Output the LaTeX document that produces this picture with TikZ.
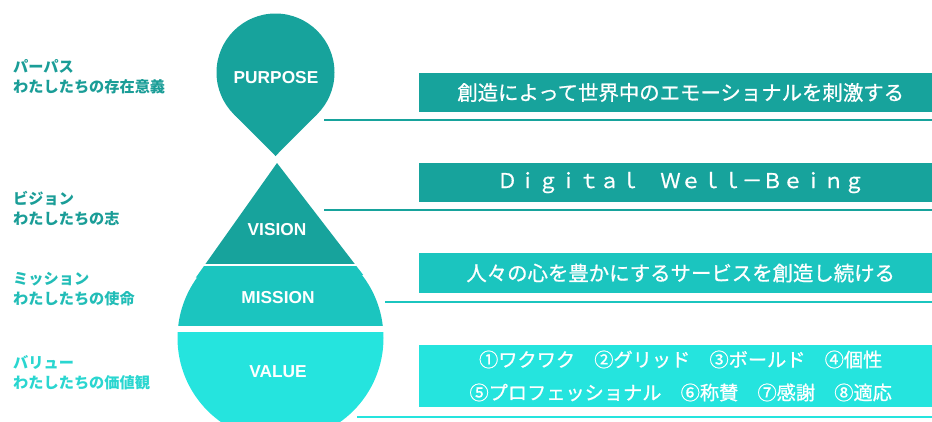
\documentclass[tikz,border=0pt]{standalone}
\usepackage{fontspec}
\setmainfont{Liberation Sans}
\newfontfamily\jpfont{Noto Sans CJK JP}
\newfontfamily\jpmed{Noto Sans CJK JP}[FakeBold=0.8]
\definecolor{tealA}{HTML}{17A39C}
\definecolor{tealB}{HTML}{1BC5BF}
\definecolor{tealC}{HTML}{25E4DE}
\definecolor{labA}{HTML}{1A9D97}
\definecolor{labB}{HTML}{22BDB7}
\definecolor{labC}{HTML}{2AD6D0}
\begin{document}
\begin{tikzpicture}[x=1pt,y=-1pt,
  shapelabel/.style={text=white, inner sep=0pt, font=\fontsize{17.3}{17.3}\selectfont\bfseries},
  sidelabel/.style={anchor=west, align=left, inner sep=0pt, font=\jpfont\bfseries\fontsize{15.2}{20}\selectfont},
  banner/.style={anchor=west, inner sep=0pt, text=white, minimum width=523pt, align=center},
  bannertext/.style={font=\jpmed\fontsize{20.4}{20.4}\selectfont},
  sepline/.style={line width=2pt}
]
\useasboundingbox (0,0) rectangle (932,421);
% ---------- PURPOSE drop ----------
\coordinate (pc) at (275.5,72.5);
\coordinate (ptip) at (275.5,156);
\coordinate (pt1) at (233.8,114.2);
\coordinate (pt2) at (317.2,114.2);
\fill[tealA] (pc) circle[radius=59pt];
\fill[tealA] (pt1) -- (ptip) -- (pt2) -- cycle;
\node[shapelabel] (purpose) at (276,78) {PURPOSE};
% ---------- lower teardrop ----------
\coordinate (apex) at (277,163);
\coordinate (cc) at (280.5,338);
\coordinate (tR) at (363.1,274.8);
\coordinate (tL) at (195.8,277.6);
\begin{scope}
  \clip (0,150) rectangle (932,263.5);
  \fill[tealA] (apex) -- (tR) -- (tL) -- cycle;
  \fill[tealA] (cc) circle[radius=103pt];
\end{scope}
\begin{scope}
  \clip (0,266.5) rectangle (932,325.5);
  \fill[tealB] (apex) -- (tR) -- (tL) -- cycle;
  \fill[tealB] (cc) circle[radius=103pt];
\end{scope}
\begin{scope}
  \clip (0,332.5) rectangle (932,430);
  \fill[tealC] (apex) -- (tR) -- (tL) -- cycle;
  \fill[tealC] (cc) circle[radius=103pt];
\end{scope}
\node[shapelabel] (vision) at (277,230) {VISION};
\node[shapelabel] (mission) at (278,298) {MISSION};
\node[shapelabel] (value) at (278,372) {VALUE};
% ---------- side labels ----------
\node[sidelabel, text=labA] (lp) at (13,77) {パーパス\\わたしたちの存在意義};
\node[sidelabel, text=labA] (lv) at (13,209) {ビジョン\\わたしたちの志};
\node[sidelabel, text=labB] (lm) at (13,289) {ミッション\\わたしたちの使命};
\node[sidelabel, text=labC] (lval) at (13,372.5) {バリュー\\わたしたちの価値観};
% ---------- banners ----------
\node[banner, fill=tealA, minimum height=39pt, bannertext] (b1) at (419,92.5) {創造によって世界中のエモーショナルを刺激する};
\node[banner, fill=tealA, minimum height=39pt, bannertext] (b2) at (419,182.5) {Ｄｉｇｉｔａｌ　Ｗｅｌｌ－Ｂｅｉｎｇ};
\node[banner, fill=tealB, minimum height=40pt, bannertext] (b3) at (419,273) {人々の心を豊かにするサービスを創造し続ける};
\node[banner, fill=tealC, minimum height=62pt, font=\jpmed\fontsize{19.2}{33}\selectfont] (b4) at (419,376) {①ワクワク　②グリッド　③ボールド　④個性\\⑤プロフェッショナル　⑥称賛　⑦感謝　⑧適応};
% ---------- separator lines ----------
\coordinate (s1a) at (324,120); \coordinate (s1b) at (932,120);
\coordinate (s2a) at (324,210); \coordinate (s2b) at (932,210);
\coordinate (s3a) at (385,302); \coordinate (s3b) at (932,302);
\coordinate (s4a) at (357,417); \coordinate (s4b) at (932,417);
\draw[sepline, tealA] (s1a) -- (s1b);
\draw[sepline, tealA] (s2a) -- (s2b);
\draw[sepline, tealB] (s3a) -- (s3b);
\draw[sepline, tealC] (s4a) -- (s4b);
\end{tikzpicture}
\end{document}
